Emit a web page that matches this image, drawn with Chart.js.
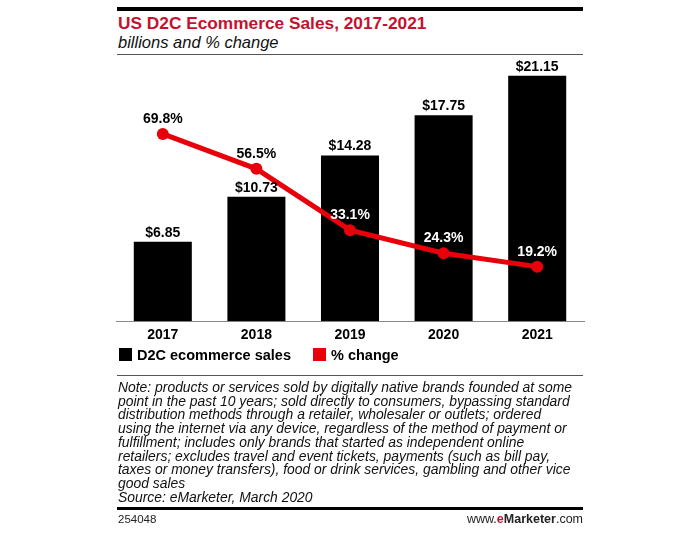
<!DOCTYPE html>
<html><head><meta charset="utf-8">
<script src="https://cdn.jsdelivr.net/npm/chart.js@4"></script>
<style>
html,body{margin:0;padding:0;background:#fff;width:700px;height:533px;overflow:hidden;font-family:"Liberation Sans",Arial,sans-serif;}
.abs{position:absolute;}
#topline{left:117px;top:7px;width:466px;height:4px;background:#000;}
#title{left:118px;top:13px;font-weight:bold;font-size:17.3px;color:#c8102e;white-space:nowrap;}
#sub{left:118px;top:33px;font-style:italic;font-size:16.5px;color:#111;white-space:nowrap;}
#subline{left:117px;top:54px;width:466px;height:1px;background:#555;}
#wrap{left:110px;top:60px;width:480px;height:290px;}
#legend{left:119px;top:347px;font-weight:bold;font-size:14.5px;color:#000;white-space:nowrap;}
.sq{display:inline-block;width:13px;height:13px;vertical-align:-1px;margin-right:5px;}
#noteline{left:117px;top:375px;width:466px;height:1px;background:#555;}
#note{left:118px;top:381px;font-style:italic;font-size:13.9px;line-height:13.7px;color:#111;white-space:pre;}
#botline{left:117px;top:507px;width:466px;height:3px;background:#000;}
#id{left:118px;top:513px;font-size:11.5px;color:#222;}
#site{right:117px;top:512px;font-size:12.5px;color:#222;}
</style></head>
<body>
<div class="abs" id="topline"></div>
<div class="abs" id="title">US D2C Ecommerce Sales, 2017-2021</div>
<div class="abs" id="sub">billions and % change</div>
<div class="abs" id="subline"></div>
<div class="abs" id="wrap"><canvas id="c"></canvas></div>
<div class="abs" id="legend"><span class="sq" style="background:#000"></span>D2C ecommerce sales<span style="display:inline-block;width:22px"></span><span class="sq" style="background:#e8000b"></span>% change</div>
<div class="abs" id="noteline"></div>
<div class="abs" id="note">Note: products or services sold by digitally native brands founded at some
point in the past 10 years; sold directly to consumers, bypassing standard
distribution methods through a retailer, wholesaler or outlets; ordered
using the internet via any device, regardless of the method of payment or
fulfillment; includes only brands that started as independent online
retailers; excludes travel and event tickets, payments (such as bill pay,
taxes or money transfers), food or drink services, gambling and other vice
good sales
Source: eMarketer, March 2020</div>
<div class="abs" id="botline"></div>
<div class="abs" id="id">254048</div>
<div class="abs" id="site">www.<b style="color:#c8102e">e</b><b>Marketer</b>.com</div>
<script>
const years = ["2017","2018","2019","2020","2021"];
const salesBillions = [6.85, 10.73, 14.28, 17.75, 21.15];
const pctChange = [69.8, 56.5, 33.1, 24.3, 19.2];
const salesLabels = ["$6.85","$10.73","$14.28","$17.75","$21.15"];
const pctLabels = ["69.8%","56.5%","33.1%","24.3%","19.2%"];
const pctLabelColors = ["#000","#000","#fff","#fff","#fff"];

const labelPlugin = {
  id: 'valueLabels',
  afterDatasetsDraw(chart) {
    const ctx = chart.ctx;
    ctx.save();
    ctx.font = 'bold 14px "Liberation Sans", Arial, sans-serif';
    ctx.textAlign = 'center';
    ctx.textBaseline = 'bottom';
    const barMeta = chart.getDatasetMeta(1);
    barMeta.data.forEach((el, i) => {
      ctx.fillStyle = '#000';
      ctx.fillText(salesLabels[i], el.x, el.y - 2);
    });
    const lineMeta = chart.getDatasetMeta(0);
    lineMeta.data.forEach((el, i) => {
      ctx.fillStyle = pctLabelColors[i];
      ctx.fillText(pctLabels[i], el.x, el.y - 8);
    });
    ctx.restore();
  }
};

new Chart(document.getElementById('c'), {
  data: {
    labels: years,
    datasets: [
      { type: 'line', label: '% change', data: pctChange, yAxisID: 'y2',
        borderColor: '#e8000b', backgroundColor: '#e8000b', borderWidth: 5,
        pointRadius: 6, pointHoverRadius: 6, pointBackgroundColor: '#e8000b', pointBorderWidth: 0,
        tension: 0, order: 0 },
      { type: 'bar', label: 'D2C ecommerce sales', data: salesBillions, yAxisID: 'y',
        backgroundColor: '#000', barPercentage: 0.62, categoryPercentage: 1, order: 1 }
    ]
  },
  options: {
    responsive: true, maintainAspectRatio: false, animation: false,
    layout: { padding: { top: 5, left: 0, right: 0, bottom: 0 } },
    plugins: { legend: { display: false }, tooltip: { enabled: false } },
    scales: {
      x: { grid: { display: false, drawTicks: false }, border: { display: true, color: '#888', width: 1 },
           ticks: { color: '#000', padding: 6, font: { family: '"Liberation Sans", Arial, sans-serif', weight: 'bold', size: 14 } } },
      y: { display: false, min: 0, max: 22 },
      y2: { display: false, min: -1.6, max: 95.7 }
    }
  },
  plugins: [labelPlugin]
});
</script>
</body></html>
